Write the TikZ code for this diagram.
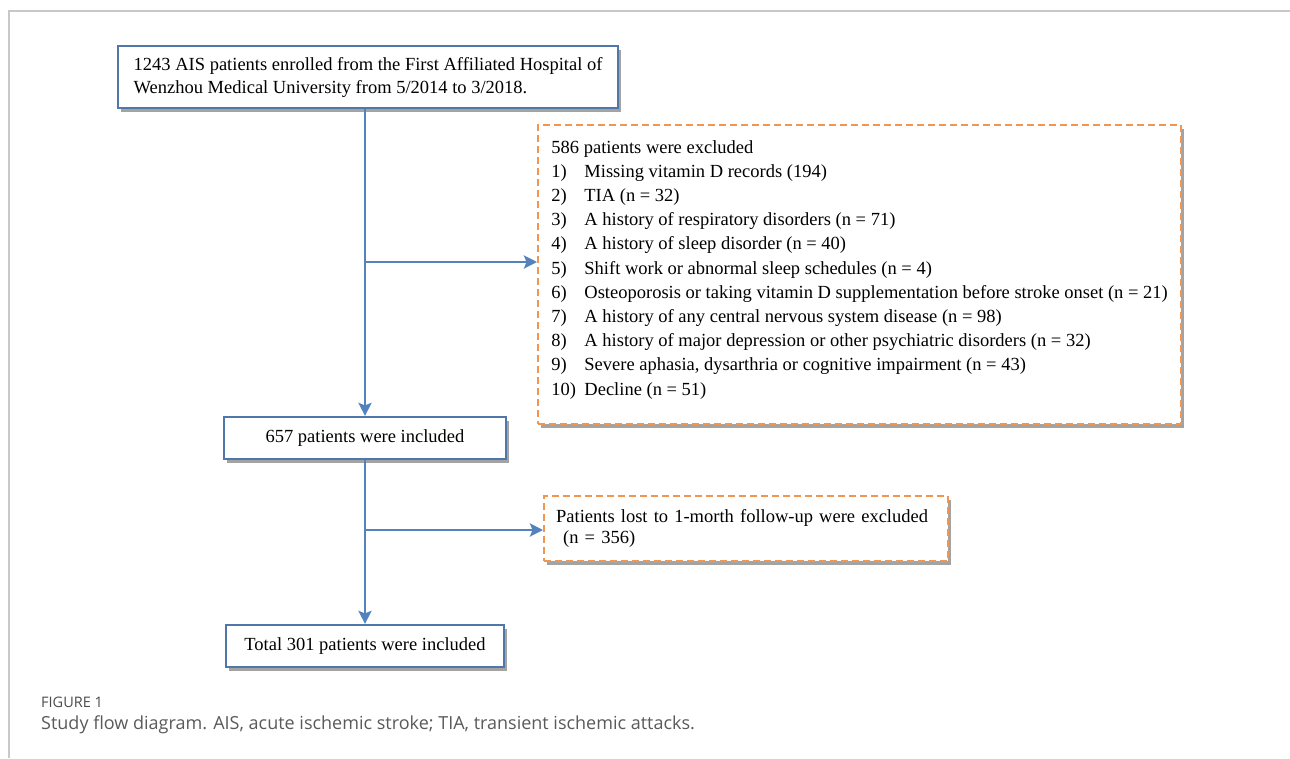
\documentclass[tikz,border=0pt]{standalone}
\usepackage{fontspec}
\setmainfont{Liberation Serif}
\newfontfamily\captionfont{Open Sans}
\usetikzlibrary{arrows.meta,shadows}

\begin{document}
\begin{tikzpicture}[x=1pt, y=-1pt]
    % Define flowchart colors
    \definecolor{boxblue}{RGB}{79, 119, 170}      % Box border blue
    \definecolor{arrowblue}{RGB}{84, 130, 189}    % Connector blue
    \definecolor{exclorange}{RGB}{240, 150, 80}   % Dashed exclusion orange
    \definecolor{framegray}{RGB}{200, 200, 200}   % Panel frame
    \definecolor{captiongray}{RGB}{90, 90, 90}    % Caption text

    \tikzset{
        flowbox/.style={draw=boxblue, line width=2.2pt, fill=white,
            drop shadow={shadow xshift=3pt, shadow yshift=-3.5pt, fill=black!55, opacity=0.65},
            font=\fontsize{18.5pt}{23pt}\selectfont},
        exclbox/.style={flowbox, draw=exclorange, dash pattern=on 7pt off 4pt},
        flowarrow/.style={draw=arrowblue, line width=2.6pt,
            -{Stealth[length=13pt, width=13pt, inset=2.5pt]}}
    }

    % Page size and panel frame
    \fill[white] (0,0) rectangle (1290,758);
    \useasboundingbox (0,0) rectangle (1290,758);
    \draw[framegray, line width=1.5pt] (1290,11) -- (9,11) -- (9,758);

    % Main flow boxes
    \node[flowbox, anchor=north west, minimum width=500pt, minimum height=62pt, align=left] (enrol) at (117,45) {
        1243 AIS patients enrolled from the First Affiliated Hospital of\\
        Wenzhou Medical University from 5/2014 to 3/2018.
    };
    \node[flowbox, minimum width=282pt, minimum height=42pt] (incl) at (365,438) {657 patients were included};
    \node[flowbox, minimum width=278pt, minimum height=42pt] (total) at (365,646) {Total 301 patients were included};

    % Exclusion boxes - dashed orange, list with hanging numbers
    \node[exclbox, anchor=north west, minimum width=643pt, minimum height=299pt, align=left,
          font=\fontsize{18.5pt}{24.2pt}\selectfont] (excl) at (537,124) {
        586 patients were excluded\\
        \makebox[33pt][l]{1)}Missing vitamin D records (194)\\
        \makebox[33pt][l]{2)}TIA (n = 32)\\
        \makebox[33pt][l]{3)}A history of respiratory disorders (n = 71)\\
        \makebox[33pt][l]{4)}A history of sleep disorder (n = 40)\\
        \makebox[33pt][l]{5)}Shift work or abnormal sleep schedules (n = 4)\\
        \makebox[33pt][l]{6)}Osteoporosis or taking vitamin D supplementation before stroke onset (n = 21)\\
        \makebox[33pt][l]{7)}A history of any central nervous system disease (n = 98)\\
        \makebox[33pt][l]{8)}A history of major depression or other psychiatric disorders (n = 32)\\
        \makebox[33pt][l]{9)}Severe aphasia, dysarthria or cognitive impairment (n = 43)\\
        \makebox[33pt][l]{10)}Decline (n = 51)\rule[-14pt]{0pt}{14pt}
    };
    \node[exclbox, anchor=north west, minimum width=404pt, minimum height=65pt, text width=380pt,
          inner xsep=12pt, align=left, font=\fontsize{18.5pt}{21pt}\selectfont] (lost) at (543,495) {
        Patients lost to 1-morth follow-up were excluded\\
        \hspace*{7pt}(n = 356)
    };

    % Connectors
    \coordinate (split1) at (365,262);
    \coordinate (split2) at (365,530);
    \draw[flowarrow] (enrol.south -| incl.north) -- (incl.north);
    \draw[flowarrow] (split1) -- (split1 -| excl.west);
    \draw[flowarrow] (incl.south) -- (total.north);
    \draw[flowarrow] (split2) -- (split2 -| lost.west);

    % Figure caption
    \node[anchor=west, inner sep=0pt, text=captiongray!85!black,
          font=\captionfont\fontsize{14.5pt}{16pt}\selectfont] (figlabel) at (41,702) {FIGURE 1};
    \node[anchor=west, inner sep=0pt, text=captiongray,
          font=\captionfont\fontsize{18pt}{20pt}\selectfont] (figcaption) at (41,725)
        {Study flow diagram. AIS, acute ischemic stroke; TIA, transient ischemic attacks.};
\end{tikzpicture}
\end{document}
